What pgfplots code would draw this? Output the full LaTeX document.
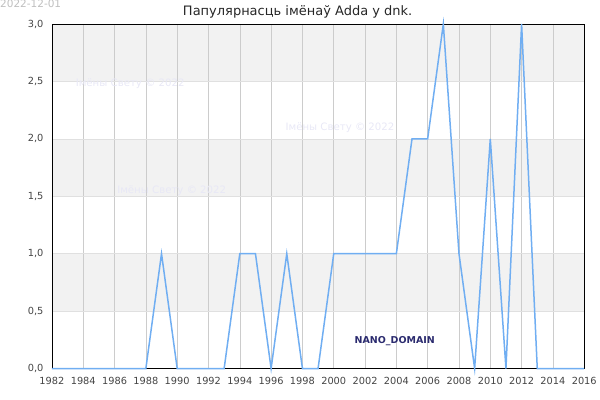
\documentclass[border=0pt]{standalone}
\usepackage{pgfplots}
\pgfplotsset{compat=1.18}
\usepackage{fontspec}
\setmainfont{DejaVu Sans}
\definecolor{linec}{HTML}{70AEF2}
\definecolor{band}{HTML}{F2F2F2}
\definecolor{tickc}{HTML}{444444}
\definecolor{wm}{HTML}{E8E8F6}
\definecolor{nano}{HTML}{2A2A6E}
\begin{document}
\begin{tikzpicture}
\pgfplotsset{set layers}
\begin{axis}[
  anchor=south west, at={(0,0)},
  scale only axis, width=533pt, height=345pt,
  xmin=1982, xmax=2016, ymin=0, ymax=3,
  xtick={1982,1984,...,2016},
  ytick={0,0.5,...,3},
  grid=major,
  x grid style={color=black!20, line width=0.6pt},
  y grid style={color=black!12, line width=0.6pt},
  axis line style={black, line width=0.8pt},
  tick style={draw=none},
  tick label style={font=\fontsize{9.8}{11}\selectfont, color=tickc},
  /pgf/number format/assume math mode=true,
  xticklabel style={/pgf/number format/1000 sep={}, yshift=-5pt},
  yticklabel style={/pgf/number format/.cd, fixed, fixed zerofill, precision=1, use comma, /tikz/xshift=-5pt},
  clip=false,
]
\begin{pgfonlayer}{axis background}
\fill[band] (axis cs:1982,0.5) rectangle (axis cs:2016,1.0);
\fill[band] (axis cs:1982,1.5) rectangle (axis cs:2016,2.0);
\fill[band] (axis cs:1982,2.5) rectangle (axis cs:2016,3.0);
\end{pgfonlayer}
\node[font=\fontsize{10.2}{12}\selectfont, text=wm] at (axis cs:1987.0,2.478) {Імёны Свету © 2022};
\node[font=\fontsize{10.2}{12}\selectfont, text=wm] at (axis cs:2000.4,2.096) {Імёны Свету © 2022};
\node[font=\fontsize{10.2}{12}\selectfont, text=wm] at (axis cs:1989.65,1.548) {Імёны Свету © 2022};
\addplot[color=linec, line width=1.5pt, mark=none] coordinates {
(1982,0) (1983,0) (1984,0) (1985,0) (1986,0) (1987,0) (1988,0)
(1989,1) (1990,0) (1991,0) (1992,0) (1993,0) (1994,1) (1995,1)
(1996,0) (1997,1) (1998,0) (1999,0) (2000,1) (2001,1) (2002,1)
(2003,1) (2004,1) (2005,2) (2006,2) (2007,3) (2008,1) (2009,0)
(2010,2) (2011,0) (2012,3) (2013,0) (2014,0) (2015,0) (2016,0)
};
\node[font=\fontsize{9.5}{11}\selectfont\bfseries, text=nano] at (axis cs:2003.9,0.243) {NANO\_DOMAIN};
\end{axis}
\node[font=\fontsize{13}{15}\selectfont, text=black!85] at (246pt,357pt) {Папулярнасць імёнаў Adda у dnk.};
\node[anchor=west, font=\fontsize{10.5}{12}\selectfont, text=black!25, inner sep=0pt] at (-52pt,365pt) {2022-12-01};
\path[use as bounding box] (-52pt,-31pt) rectangle (548pt,369pt);
\end{tikzpicture}
\end{document}
